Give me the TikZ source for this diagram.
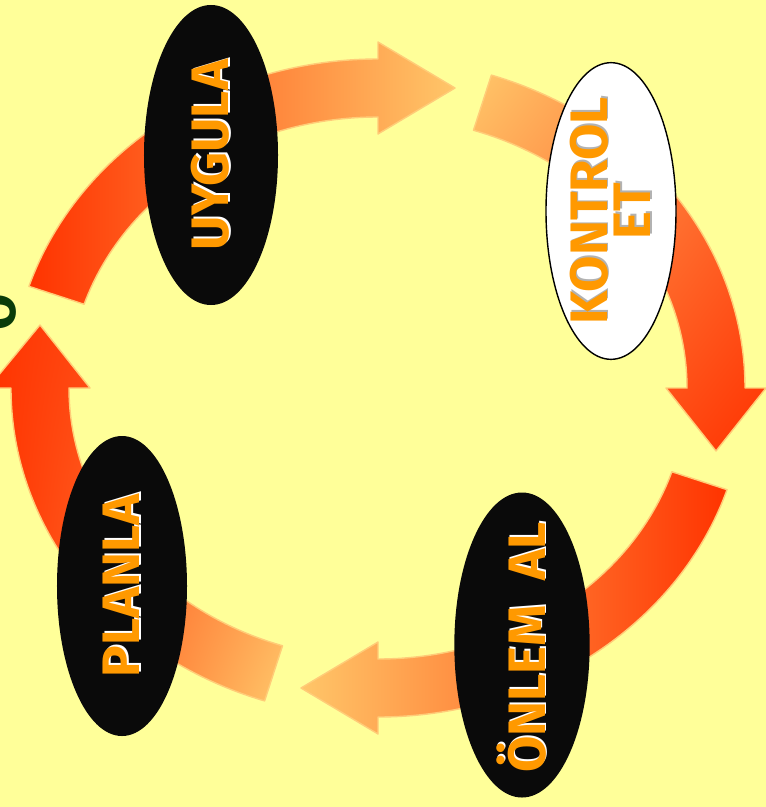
\documentclass[tikz,border=0pt]{standalone}
\usepackage{fontspec}
\newfontfamily\stagefont{Fira Sans}
\usetikzlibrary{shapes,calc,shadings}
\definecolor{paleyellow}{RGB}{255,255,153}
\definecolor{arrowred}{RGB}{255,51,0}
\definecolor{arrowmid}{RGB}{255,110,50}
\definecolor{arrowlight}{RGB}{255,198,105}
\definecolor{arrowedge}{RGB}{255,204,120}
\definecolor{labelorange}{RGB}{255,153,0}
\definecolor{nearblack}{RGB}{10,10,10}
\definecolor{darkgreen}{RGB}{10,60,10}
\newcommand{\glow}[2]{\rlap{\hspace{1.6pt}\raisebox{-1.6pt}{\color{#1}#2}}#2}

\begin{document}
\begin{tikzpicture}[x=0.03cm, y=-0.03cm,
    stage/.style={ellipse, minimum width=4cm, minimum height=9cm, inner sep=0pt},
    darkstage/.style={stage, fill=nearblack},
    lightstage/.style={stage, fill=white, draw=black, line width=1.2pt},
    stagelabel/.style={rotate=90, align=center, inner sep=0pt, text=labelorange, font=\stagefont\bfseries\fontsize{45}{37}\selectfont},
    cyclearrow/.style={draw=arrowedge, line width=1.2pt, line join=round}
]
    % background
    \fill[paleyellow] (0,0) rectangle (766,807);
    \useasboundingbox (0,0) rectangle (766,807);
    \clip (0,0) rectangle (766,807);
    \coordinate (C) at (378,388);

    % Arrow UYGULA -> KONTROL ET
    \shadedraw[cyclearrow, left color=arrowred, middle color=arrowmid, right color=arrowlight]
        ($(C)+(198:367 and 329)$) arc[start angle=198, end angle=270, x radius=367, y radius=329]
        -- (378,42) -- (455,88) -- (378,134) -- (378,117)
        arc[start angle=270, end angle=198, x radius=309, y radius=271] -- cycle;

    % Arrow KONTROL ET -> ONLEM AL
    \shadedraw[cyclearrow, upper left=arrowlight, upper right=arrowmid, lower left=arrowmid, lower right=arrowred]
        ($(C)+(288:367 and 329)$) arc[start angle=288, end angle=360, x radius=367, y radius=329]
        -- (766,388) -- (716,451) -- (666,388) -- (687,388)
        arc[start angle=360, end angle=288, x radius=309, y radius=271] -- cycle;

    % Arrow ONLEM AL -> PLANLA
    \shadedraw[cyclearrow, left color=arrowlight, middle color=arrowmid, right color=arrowred]
        ($(C)+(18:367 and 329)$) arc[start angle=18, end angle=90, x radius=367, y radius=329]
        -- (378,734) -- (301,688) -- (378,642) -- (378,659)
        arc[start angle=90, end angle=18, x radius=309, y radius=271] -- cycle;

    % Arrow PLANLA -> UYGULA
    \shadedraw[cyclearrow, upper left=arrowred, upper right=arrowmid, lower left=arrowred, lower right=arrowlight]
        ($(C)+(108:367 and 329)$) arc[start angle=108, end angle=180, x radius=367, y radius=329]
        -- (-12,388) -- (40,325) -- (90,388) -- (69,388)
        arc[start angle=180, end angle=108, x radius=309, y radius=271] -- cycle;

    % Stages
    \node[darkstage, minimum width=4.02cm] (uygula) at (211,155) {};
    \node[lightstage, minimum width=3.9cm, minimum height=8.9cm] (kontrol) at (611,211) {};
    \node[darkstage, minimum width=4.06cm, minimum height=9.15cm] (onlem) at (522,645) {};
    \node[darkstage, minimum width=3.9cm] (planla) at (122,586) {};

    % Labels
    \node[stagelabel] (uygula-text) at (uygula) {\glow{white}{UYGULA}};
    \node[stagelabel] (kontrol-text) at (kontrol) {\glow{gray!60}{KONTROL}\\\glow{gray!60}{ET}};
    \node[stagelabel] (onlem-text) at ([yshift=-2]onlem) {\glow{white}{ÖNLEM~~AL}};
    \node[stagelabel] (planla-text) at (planla) {\glow{white}{PLANLA}};

    % Cut-off letter at left edge
    \node[stagelabel, text=darkgreen] (edge) at (-3,312) {O};
\end{tikzpicture}
\end{document}
